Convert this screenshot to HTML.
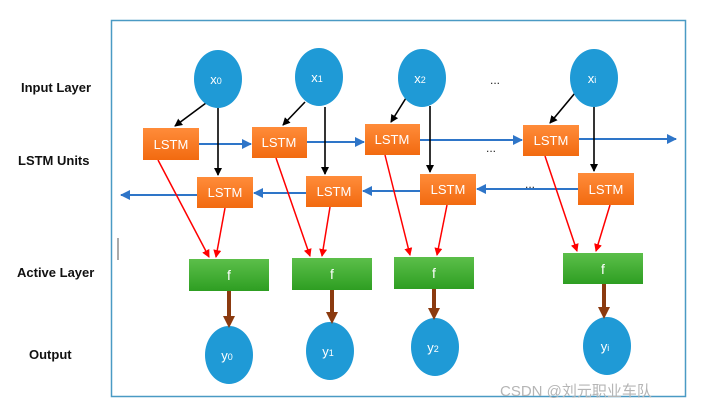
<!DOCTYPE html>
<html><head><meta charset="utf-8"><style>
body{margin:0;background:#fff;}
svg text{font-family:"Liberation Sans",sans-serif;}
</style></head><body>
<svg width="708" height="412" viewBox="0 0 708 412" xmlns="http://www.w3.org/2000/svg">
<defs>
<marker id="bk" markerWidth="8" markerHeight="8" refX="7" refY="4" orient="auto" markerUnits="userSpaceOnUse"><path d="M0,0 L8,4 L0,8 z" fill="#000"/></marker>
<marker id="bl" markerWidth="10" markerHeight="10" refX="9" refY="5" orient="auto" markerUnits="userSpaceOnUse"><path d="M0,0 L10,5 L0,10 z" fill="#2e75c8"/></marker>
<marker id="rd" markerWidth="8" markerHeight="10" refX="7" refY="4" orient="auto" markerUnits="userSpaceOnUse"><path d="M0,0 L8,4 L0,8 z" fill="#f00"/></marker>
<marker id="br" markerWidth="12" markerHeight="12" refX="6" refY="6" orient="auto" markerUnits="userSpaceOnUse"><path d="M0,0 L12,6 L0,12 z" fill="#8b3a0f"/></marker>
<linearGradient id="og" x1="0" y1="0" x2="0" y2="1"><stop offset="0" stop-color="#ff8c3a"/><stop offset="1" stop-color="#f26a10"/></linearGradient>
<linearGradient id="gg" x1="0" y1="0" x2="0" y2="1"><stop offset="0" stop-color="#5cbf4a"/><stop offset="1" stop-color="#2e9e22"/></linearGradient>
</defs>
<rect x="111.5" y="20.5" width="574" height="376" fill="none" stroke="#4a9ac4" stroke-width="1.5"/>
<line x1="118" y1="238" x2="118" y2="260" stroke="#555" stroke-width="1"/>
<g font-weight="bold" font-size="13" fill="#111">
<text x="21" y="92">Input Layer</text>
<text x="18" y="165">LSTM Units</text>
<text x="17" y="277">Active Layer</text>
<text x="29" y="359">Output</text>
</g>
<g font-size="12" fill="#222"><text x="490" y="84">...</text><text x="486" y="152">...</text><text x="525" y="188">...</text></g>

<g stroke="#2e75c8" stroke-width="2" marker-end="url(#bl)">
<line x1="199" y1="144" x2="251" y2="144"/>
<line x1="307" y1="142" x2="364" y2="142"/>
<line x1="420" y1="140" x2="522" y2="140"/>
<line x1="579" y1="139" x2="676" y2="139"/>
<line x1="306" y1="193" x2="254" y2="193"/>
<line x1="420" y1="191" x2="363" y2="191"/>
<line x1="578" y1="189" x2="477" y2="189"/>
<line x1="197" y1="195" x2="121" y2="195"/>
</g>
<g stroke="#000" stroke-width="1.6" marker-end="url(#bk)">
<line x1="206" y1="103" x2="175" y2="126"/><line x1="218" y1="108" x2="218" y2="175"/>
<line x1="305" y1="102" x2="283" y2="125"/><line x1="325" y1="107" x2="325" y2="174"/>
<line x1="406" y1="98" x2="391" y2="122"/><line x1="430" y1="106" x2="430" y2="172"/>
<line x1="575" y1="93" x2="550" y2="123"/><line x1="594" y1="107" x2="594" y2="171"/>
</g>
<g stroke="#f00" stroke-width="1.5" marker-end="url(#rd)">
<line x1="158" y1="160" x2="209" y2="257"/><line x1="225" y1="208" x2="216" y2="257"/>
<line x1="276" y1="158" x2="310" y2="256"/><line x1="330" y1="207" x2="322" y2="256"/>
<line x1="385" y1="155" x2="410" y2="255"/><line x1="447" y1="205" x2="437" y2="255"/>
<line x1="545" y1="156" x2="577" y2="251"/><line x1="610" y1="205" x2="596" y2="251"/>
</g>
<g fill="#1f9ad6">
<ellipse cx="218" cy="79" rx="24" ry="29"/><ellipse cx="319" cy="77" rx="24" ry="29"/>
<ellipse cx="422" cy="78" rx="24" ry="29"/><ellipse cx="594" cy="78" rx="24" ry="29"/>
<ellipse cx="229" cy="355" rx="24" ry="29"/><ellipse cx="330" cy="351" rx="24" ry="29"/>
<ellipse cx="435" cy="347" rx="24" ry="29"/><ellipse cx="607" cy="346" rx="24" ry="29"/>
</g>
<g fill="#fff" font-size="13" text-anchor="middle">
<text x="216" y="84">x<tspan font-size="9">0</tspan></text>
<text x="317" y="82">x<tspan font-size="9">1</tspan></text>
<text x="420" y="83">x<tspan font-size="9">2</tspan></text>
<text x="592" y="83">x<tspan font-size="9">i</tspan></text>
<text x="227" y="360">y<tspan font-size="9">0</tspan></text>
<text x="328" y="356">y<tspan font-size="9">1</tspan></text>
<text x="433" y="352">y<tspan font-size="9">2</tspan></text>
<text x="605" y="351">y<tspan font-size="9">i</tspan></text>
</g>
<g fill="url(#og)">
<rect x="143" y="128" width="56" height="32"/><rect x="252" y="127" width="55" height="31"/>
<rect x="365" y="124" width="55" height="31"/><rect x="523" y="125" width="56" height="31"/>
<rect x="197" y="177" width="56" height="31"/><rect x="306" y="176" width="56" height="31"/>
<rect x="420" y="174" width="56" height="31"/><rect x="578" y="173" width="56" height="32"/>
</g>
<g fill="#fff" font-size="13" text-anchor="middle">
<text x="171" y="149">LSTM</text><text x="279" y="147">LSTM</text>
<text x="392" y="144">LSTM</text><text x="551" y="145">LSTM</text>
<text x="225" y="197">LSTM</text><text x="334" y="196">LSTM</text>
<text x="448" y="194">LSTM</text><text x="606" y="194">LSTM</text>
</g>
<g fill="url(#gg)">
<rect x="189" y="259" width="80" height="32"/><rect x="292" y="258" width="80" height="32"/>
<rect x="394" y="257" width="80" height="32"/><rect x="563" y="253" width="80" height="31"/>
</g>
<g fill="#fff" font-size="14" text-anchor="middle">
<text x="229" y="280">f</text><text x="332" y="279">f</text><text x="434" y="278">f</text><text x="603" y="274">f</text>
</g>
<g stroke="#8b3a0f" stroke-width="4" marker-end="url(#br)">
<line x1="229" y1="291" x2="229" y2="322"/><line x1="332" y1="290" x2="332" y2="318"/>
<line x1="434" y1="289" x2="434" y2="314"/><line x1="604" y1="284" x2="604" y2="313"/>
</g>
<text x="500" y="396" font-size="15" fill="#b5b5b5" font-family="'Liberation Sans','Noto Sans CJK SC',sans-serif">CSDN @刘元职业车队</text>
</svg>
</body></html>
